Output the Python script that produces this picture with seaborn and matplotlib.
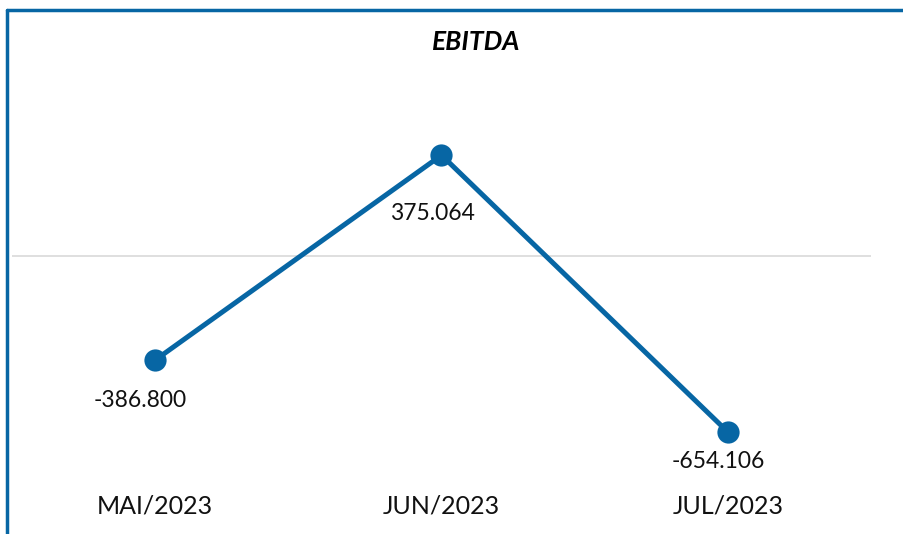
import matplotlib.pyplot as plt
import seaborn as sns
import pandas as pd
from matplotlib.lines import Line2D

months = ['MAI/2023', 'JUN/2023', 'JUL/2023']
ebitda = [-386.800, 375.064, -654.106]
labels = ['-386.800', '375.064', '-654.106']

df = pd.DataFrame({'Mes': months, 'EBITDA': ebitda})

sns.set_style("white")
plt.rcParams['font.family'] = ['Lato', 'Open Sans', 'DejaVu Sans']

blue = '#0766a4'
fig = plt.figure(figsize=(9.04, 5.34), dpi=100)
ax = fig.add_axes([12 / 904, 0.1176, 859 / 904, 0.7303])

ax.axhline(0, color='#d9d9d9', linewidth=1.2, zorder=0)
sns.lineplot(data=df, x='Mes', y='EBITDA', color=blue, linewidth=3.6,
             marker='o', markersize=16, markeredgewidth=0, ax=ax, sort=False)

ax.set_xlim(-0.5, 2.5)
ax.set_ylim(-800, 650)
ax.set_yticks([])
ax.set_xlabel('')
ax.set_ylabel('')
ax.tick_params(axis='x', length=0, pad=17, labelsize=18, labelcolor='#111111')
for s in ax.spines.values():
    s.set_visible(False)

# data labels (offsets in pixels)
offsets = [(-15, -40), (-9, -58), (-10, -30)]
for i, (v, t) in enumerate(zip(ebitda, labels)):
    ax.annotate(t, (i, v), xytext=offsets[i], textcoords='offset pixels',
                ha='center', va='center', fontsize=16.5, color='#111111')

fig.text(476 / 904, 1 - 42 / 534, 'EBITDA', ha='center', va='center',
         fontsize=19, fontweight='bold', fontstyle='italic', color='black')

# outer frame: top and left lines
fig.add_artist(Line2D([7 / 904, 1], [1 - 10 / 534, 1 - 10 / 534],
                      transform=fig.transFigure, color=blue, linewidth=2.5))
fig.add_artist(Line2D([7 / 904, 7 / 904], [0, 1 - 10 / 534],
                      transform=fig.transFigure, color=blue, linewidth=2.5))

fig.savefig('out.png', dpi=100)
